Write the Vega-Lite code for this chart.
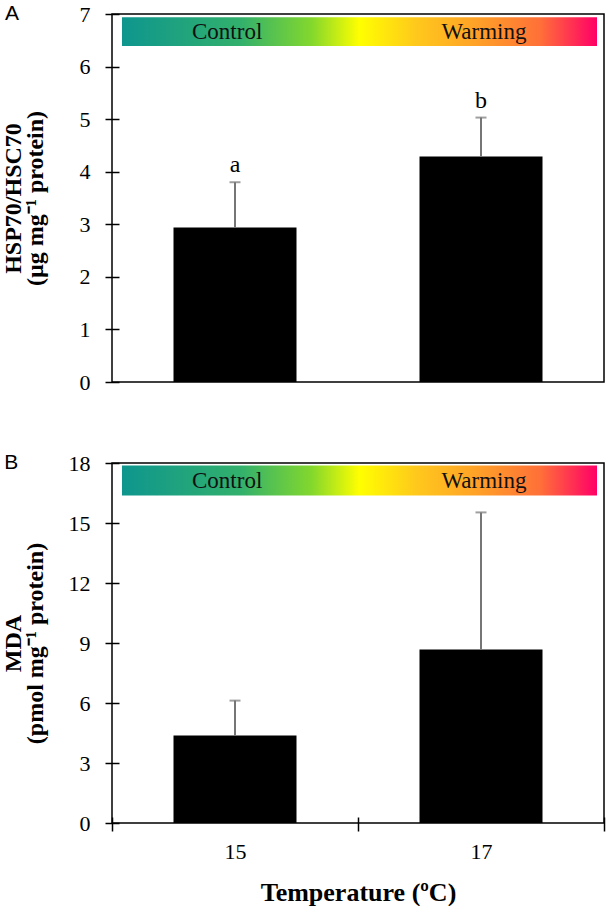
{
  "$schema": "https://vega.github.io/schema/vega-lite/v6.json",
  "padding": {"left": 0, "top": 2, "right": 4, "bottom": 0},
  "spacing": 57,
  "config": {
    "font": "Times New Roman, Liberation Serif, serif",
    "view": {"stroke": "black", "strokeWidth": 1.5},
    "text": {"font": "Times New Roman, Liberation Serif, serif"},
    "axis": {
      "labelFont": "Times New Roman, Liberation Serif, serif",
      "titleFont": "Times New Roman, Liberation Serif, serif",
      "labelColor": "black",
      "titleColor": "black",
      "tickColor": "black",
      "domainColor": "black",
      "grid": false,
      "tickWidth": 1.5,
      "labelFontSize": 22
    }
  },
  "vconcat": [
    {
      "width": 492,
      "height": 368,
      "resolve": {"scale": {"x": "independent"}, "axis": {"x": "independent"}},
      "layer": [
        {
          "data": {"values": [
            {"temp": "15", "value": 2.94, "upper": 3.8, "letter": "a"},
            {"temp": "17", "value": 4.29, "upper": 5.03, "letter": "b"}
          ]},
          "encoding": {
            "x": {"field": "temp", "type": "nominal", "axis": null, "scale": {"paddingInner": 0, "paddingOuter": 0}}
          },
          "layer": [
            {
              "mark": {"type": "bar", "color": "black", "width": {"band": 0.5}},
              "encoding": {
                "y": {"field": "value", "type": "quantitative", "scale": {"domain": [0, 7], "nice": false},
                  "axis": {"values": [0, 1, 2, 3, 4, 5, 6, 7], "format": "d", "title": ["HSP70/HSC70", "(µg mg⁻¹ protein)"],
                    "offset": -7, "tickSize": 14, "domain": false, "labelPadding": 15,
                    "titleFontSize": 24, "titleFontWeight": "bold", "titleLineHeight": 22.6,
                    "titleBaseline": "alphabetic", "titleAngle": -90, "titleAlign": "center",
                    "titleX": -99, "titleY": 184}}
              }
            },
            {
              "mark": {"type": "rule", "color": "#767676", "strokeWidth": 2},
              "encoding": {
                "y": {"field": "value", "type": "quantitative"},
                "y2": {"field": "upper"}
              }
            },
            {
              "mark": {"type": "tick", "color": "#767676", "thickness": 2, "size": 11, "orient": "horizontal"},
              "encoding": {
                "y": {"field": "upper", "type": "quantitative"}
              }
            },
            {
              "mark": {"type": "text", "fontSize": 24, "baseline": "alphabetic", "dy": -10, "color": "black"},
              "encoding": {
                "y": {"field": "upper", "type": "quantitative"},
                "text": {"field": "letter"}
              }
            }
          ]
        },
        {
          "data": {"values": [{"band": "gradient"}]},
          "layer": [
            {
              "mark": {"type": "rect", "fill": {"gradient": "linear", "x1": 0, "x2": 1, "y1": 0, "y2": 0, "stops": [
                {"offset": 0, "color": "#0e968e"},
                {"offset": 0.25, "color": "#32b06c"},
                {"offset": 0.4, "color": "#84d82c"},
                {"offset": 0.5, "color": "#ffff00"},
                {"offset": 0.62, "color": "#ffc81c"},
                {"offset": 0.75, "color": "#ffa028"},
                {"offset": 0.88, "color": "#ff7038"},
                {"offset": 1, "color": "#ff0066"}]}},
              "encoding": {
                "x": {"datum": 0.0203, "type": "quantitative", "scale": {"domain": [0, 1]}, "axis": null},
                "x2": {"datum": 0.9858},
                "y": {"datum": 6.94, "type": "quantitative"},
                "y2": {"datum": 6.39}
              }
            },
            {
              "mark": {"type": "text", "fontSize": 23, "baseline": "middle", "color": "#111"},
              "encoding": {
                "x": {"datum": 0.234, "type": "quantitative"},
                "y": {"datum": 6.665, "type": "quantitative"},
                "text": {"value": "Control"}
              }
            },
            {
              "mark": {"type": "text", "fontSize": 23, "baseline": "middle", "color": "#111"},
              "encoding": {
                "x": {"datum": 0.756, "type": "quantitative"},
                "y": {"datum": 6.665, "type": "quantitative"},
                "text": {"value": "Warming"}
              }
            },
            {
              "mark": {"type": "text", "fontSize": 21, "font": "Liberation Sans", "baseline": "middle", "align": "center", "color": "black"},
              "encoding": {
                "x": {"datum": -0.203, "type": "quantitative"},
                "y": {"datum": 7, "type": "quantitative"},
                "text": {"value": "A"}
              }
            }
          ]
        }
      ]
    },
    {
      "width": 492,
      "height": 360,
      "resolve": {"scale": {"x": "independent"}, "axis": {"x": "independent"}},
      "layer": [
        {
          "data": {"values": [
            {"temp": "15", "value": 4.37, "upper": 6.12},
            {"temp": "17", "value": 8.67, "upper": 15.53}
          ]},
          "encoding": {
            "x": {"field": "temp", "type": "nominal", "scale": {"paddingInner": 0, "paddingOuter": 0},
              "axis": {"title": "Temperature (ºC)", "labelAngle": 0, "tickBand": "extent",
                "offset": -6, "tickSize": 14, "domain": false, "labelPadding": 10,
                "titleFontSize": 26, "titleFontWeight": "bold", "titlePadding": 17}}
          },
          "layer": [
            {
              "mark": {"type": "bar", "color": "black", "width": {"band": 0.5}},
              "encoding": {
                "y": {"field": "value", "type": "quantitative", "scale": {"domain": [0, 18], "nice": false},
                  "axis": {"values": [0, 3, 6, 9, 12, 15, 18], "format": "d", "title": ["MDA", "(pmol mg⁻¹ protein)"],
                    "offset": -7, "tickSize": 14, "domain": false, "labelPadding": 15,
                    "titleFontSize": 24, "titleFontWeight": "bold", "titleLineHeight": 22.6,
                    "titleBaseline": "alphabetic", "titleAngle": -90, "titleAlign": "center",
                    "titleX": -99, "titleY": 180}}
              }
            },
            {
              "mark": {"type": "rule", "color": "#767676", "strokeWidth": 2},
              "encoding": {
                "y": {"field": "value", "type": "quantitative"},
                "y2": {"field": "upper"}
              }
            },
            {
              "mark": {"type": "tick", "color": "#767676", "thickness": 2, "size": 11, "orient": "horizontal"},
              "encoding": {
                "y": {"field": "upper", "type": "quantitative"}
              }
            }
          ]
        },
        {
          "data": {"values": [{"band": "gradient"}]},
          "layer": [
            {
              "mark": {"type": "rect", "fill": {"gradient": "linear", "x1": 0, "x2": 1, "y1": 0, "y2": 0, "stops": [
                {"offset": 0, "color": "#0e968e"},
                {"offset": 0.25, "color": "#32b06c"},
                {"offset": 0.4, "color": "#84d82c"},
                {"offset": 0.5, "color": "#ffff00"},
                {"offset": 0.62, "color": "#ffc81c"},
                {"offset": 0.75, "color": "#ffa028"},
                {"offset": 0.88, "color": "#ff7038"},
                {"offset": 1, "color": "#ff0066"}]}},
              "encoding": {
                "x": {"datum": 0.0203, "type": "quantitative", "scale": {"domain": [0, 1]}, "axis": null},
                "x2": {"datum": 0.9858},
                "y": {"datum": 17.87, "type": "quantitative"},
                "y2": {"datum": 16.37}
              }
            },
            {
              "mark": {"type": "text", "fontSize": 23, "baseline": "middle", "color": "#111"},
              "encoding": {
                "x": {"datum": 0.234, "type": "quantitative"},
                "y": {"datum": 17.12, "type": "quantitative"},
                "text": {"value": "Control"}
              }
            },
            {
              "mark": {"type": "text", "fontSize": 23, "baseline": "middle", "color": "#111"},
              "encoding": {
                "x": {"datum": 0.756, "type": "quantitative"},
                "y": {"datum": 17.12, "type": "quantitative"},
                "text": {"value": "Warming"}
              }
            },
            {
              "mark": {"type": "text", "fontSize": 21, "font": "Liberation Sans", "baseline": "middle", "align": "center", "color": "black"},
              "encoding": {
                "x": {"datum": -0.205, "type": "quantitative"},
                "y": {"datum": 18, "type": "quantitative"},
                "text": {"value": "B"}
              }
            }
          ]
        }
      ]
    }
  ]
}
